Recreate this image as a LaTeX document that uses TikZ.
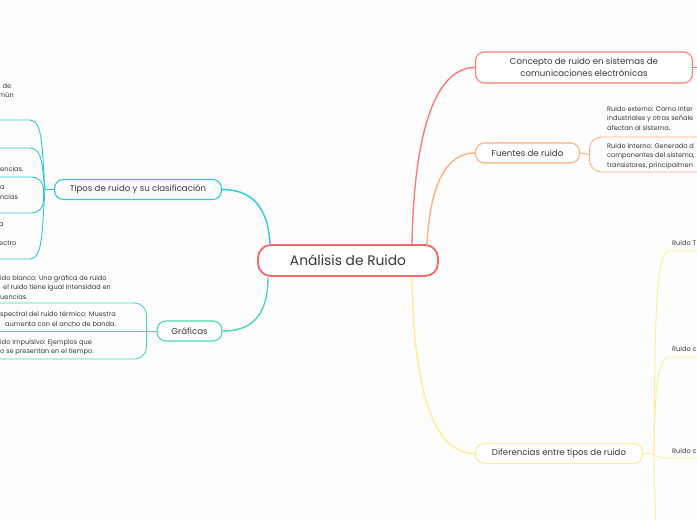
\documentclass[tikz,border=0pt]{standalone}
\usepackage{fontspec}
\setmainfont{Poppins}
\definecolor{rootred}{HTML}{F26966}
\definecolor{conceptred}{HTML}{F77C7A}
\definecolor{sourceorange}{HTML}{FCB27E}
\definecolor{diffyellow}{HTML}{FBEE93}
\definecolor{typecyan}{HTML}{2CC8D6}
\definecolor{graphgreen}{HTML}{4FD8A8}
\definecolor{inktext}{HTML}{383838}
\definecolor{paper}{HTML}{FDFDFD}
\begin{document}
\begin{tikzpicture}[x=1pt, y=-1pt,
    every node/.style={text=inktext},
    rootbox/.style={draw=rootred, line width=1.8pt, fill=white, rounded corners=13pt,
        minimum width=180pt, minimum height=31pt, font=\fontsize{13.8}{16}\selectfont},
    topicbox/.style={draw=#1, line width=1.1pt, fill=white, rounded corners=9pt,
        minimum height=20pt, inner sep=0pt, font=\fontsize{8.6}{11}\selectfont},
    leafbox/.style={draw=#1, line width=0.9pt, rounded corners=12pt, inner sep=0pt},
    leaftext/.style={font=\fontsize{6.6}{9.4}\selectfont, align=left, inner sep=0pt, anchor=base west},
    mainlink/.style={draw=#1, line width=1.4pt},
    sublink/.style={draw=#1, line width=0.9pt}]
\useasboundingbox (0,0) rectangle (697,520);
\clip (0,0) rectangle (697,520);
\fill[paper] (0,0) rectangle (697,520);

% nodo central
\node[rootbox] (root) at (348,260.5) {Análisis de Ruido};

% ramas principales
\node[topicbox=conceptred, minimum width=217pt, minimum height=31pt, align=center,
    font=\fontsize{8.6}{11.5}\selectfont] (concepto) at (584,67.5)
    {Concepto de ruido en sistemas de\\comunicaciones electrónicas};
\node[topicbox=sourceorange, minimum width=104pt] (fuentes) at (527.5,153) {Fuentes de ruido};
\node[topicbox=diffyellow, minimum width=167pt] (diferencias) at (559,453.5) {Diferencias entre tipos de ruido};
\node[topicbox=typecyan, minimum width=167pt] (tipos) at (138,189.5) {Tipos de ruido y su clasificación};
\node[topicbox=graphgreen, minimum width=65pt] (graficas) at (189.5,331) {Gráficas};

\draw[mainlink=conceptred] ([xshift=64pt]root.north) .. controls (414,130) and (436,67.5) .. (concepto.west);
\draw[mainlink=sourceorange] ([xshift=79pt]root.north) .. controls (430,185) and (446,153) .. (fuentes.west);
\draw[mainlink=diffyellow] ([xshift=64pt]root.south) .. controls (414,400) and (436,453.5) .. (diferencias.west);
\draw[mainlink=typecyan] ([xshift=-78pt]root.north) .. controls (268,205) and (250,189.5) .. (tipos.east);
\draw[mainlink=graphgreen] ([xshift=-80pt]root.south) .. controls (268,318) and (250,331) .. (graficas.east);

% concepto
\coordinate (conceptoend) at (705,67.5);
\draw[sublink=conceptred] (concepto.east) -- (conceptoend);

% fuentes de ruido
\node[leafbox=sourceorange, anchor=west, minimum width=220pt, minimum height=35pt] (interno) at (589,154.5) {};
\draw[sublink=sourceorange] (fuentes.east) -- (interno.west);
\node[leaftext] (externotxt) at (607,130)
    {Ruido externo: Como inter\\industriales y otras señale\\afectan al sistema.};
\node[leaftext] (internotxt) at (607,167)
    {Ruido interno: Generado d\\componentes del sistema,\\transistores, principalmen};

% diferencias
\coordinate (difjoin) at (654,453.5);
\coordinate (difend) at (657,560);
\node[leaftext] (termico) at (672,245.5) {Ruido T};
\node[leaftext] (difc) at (672,351.5) {Ruido c};
\node[leaftext] (difd) at (672,453.5) {Ruido c};
\draw[sublink=diffyellow] (diferencias.east) -- (difjoin);
\draw[sublink=diffyellow] (difjoin) .. controls (655,330) and (655,251) .. (669,251) -- (705,251);
\draw[sublink=diffyellow] (difjoin) .. controls (655,410) and (655,357) .. (669,357) -- (705,357);
\draw[sublink=diffyellow] (difjoin) .. controls (658,458) and (660,458) .. (669,458) -- (705,458);
\draw[sublink=diffyellow] (difjoin) .. controls (655,500) .. (difend);

% tipos de ruido
\coordinate (tipjoin) at (45,189.5);
\node[leafbox=typecyan, anchor=east, minimum width=80pt, minimum height=36pt] (tipobox) at (44,195) {};
\draw[sublink=typecyan] (tipos.west) -- (tipjoin);
\draw[sublink=typecyan] (tipjoin) .. controls (42,150) and (43,120) .. (30,120) -- (-5,120);
\draw[sublink=typecyan] (tipjoin) .. controls (42,168) and (43,148) .. (30,148) -- (-5,148);
\draw[sublink=typecyan] (tipjoin) .. controls (42,230) and (43,259) .. (30,259) -- (-5,259);
\node[leaftext] (tipa) at (2.5,88) {de};
\node[leaftext] (tipb) at (0,97) {\hspace{-1.5pt}mún};
\node[leaftext] (tipc) at (0,171) {encias.};
\node[leaftext] (tipd) at (0,199) {a\\ncias};
\node[leaftext] (tipe) at (-1,245) {a\\\mbox{}\\ectro};

% graficas
\node[leafbox=graphgreen, anchor=east, minimum width=180pt, minimum height=56pt] (espectral) at (147,331) {};
\draw[sublink=graphgreen] (graficas.west) -- (espectral.west);
\node[leaftext] (blanco) at (0,299)
    {ido blanco: Una gráfica de ruido\\\hspace{3pt}el ruido tiene igual intensidad en\\uencias.};
\node[leaftext] (termicotxt) at (0,326)
    {spectral del ruido térmico: Muestra\\\hspace{5pt}aumenta con el ancho de banda.};
\node[leaftext] (impulsivo) at (0,353.5)
    {ido impulsivo: Ejemplos que\\o se presentan en el tiempo.};
\end{tikzpicture}
\end{document}
